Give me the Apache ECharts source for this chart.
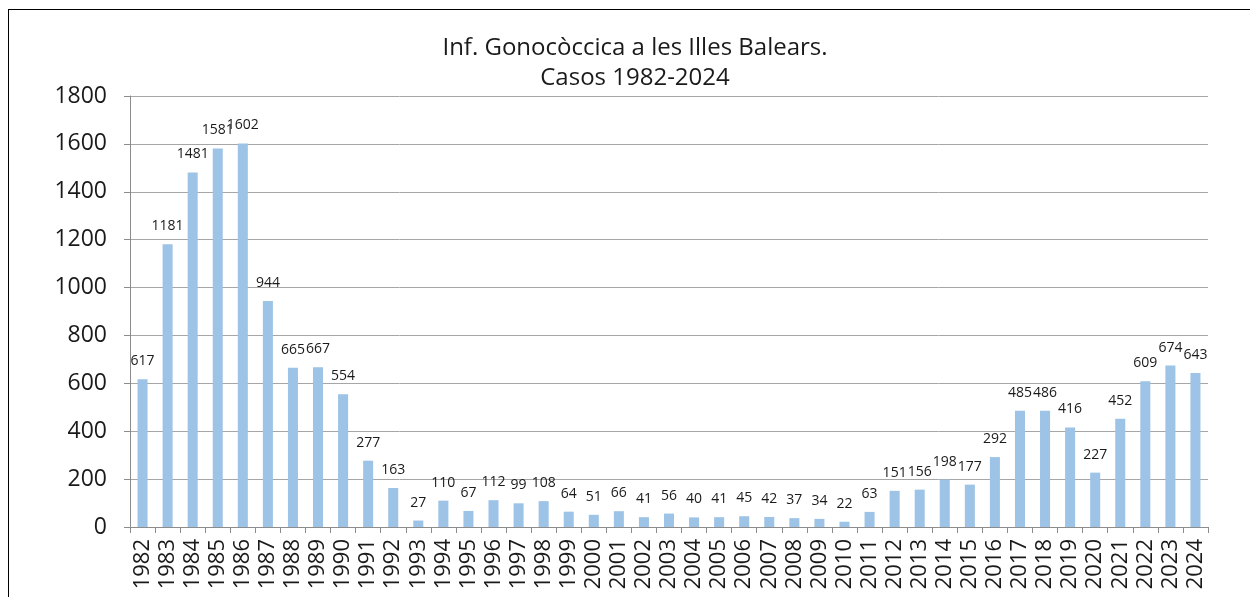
<!DOCTYPE html>
<html><head><meta charset="utf-8">
<script src="https://cdn.jsdelivr.net/npm/echarts@6/dist/echarts.min.js"></script>
<style>
html,body{margin:0;padding:0;background:#fff;width:1250px;height:597px;overflow:hidden;}
#frame{position:absolute;left:8px;top:9px;width:1300px;height:700px;border:1.5px solid #000;box-sizing:border-box;}
#c{position:absolute;left:0;top:0;width:1250px;height:597px;}
</style></head>
<body><div id="frame"></div><div id="c"></div>
<script>
const years = ['1982','1983','1984','1985','1986','1987','1988','1989','1990','1991','1992','1993','1994','1995','1996','1997','1998','1999','2000','2001','2002','2003','2004','2005','2006','2007','2008','2009','2010','2011','2012','2013','2014','2015','2016','2017','2018','2019','2020','2021','2022','2023','2024'];
const cases = [617,1181,1481,1581,1602,944,665,667,554,277,163,27,110,67,112,99,108,64,51,66,41,56,40,41,45,42,37,34,22,63,151,156,198,177,292,485,486,416,227,452,609,674,643];
const titleLines = ['Inf. Gonocòccica a les Illes Balears.', 'Casos 1982-2024'];

const chart = echarts.init(document.getElementById('c'), null, {renderer:'canvas'});
chart.setOption({
  animation:false,
  textStyle:{fontFamily:'"Open Sans","Noto Sans",sans-serif'},
  title:{text:titleLines.join('\n'), left:630, top:28, textAlign:'center',
    textStyle:{fontSize:24, fontWeight:'normal', color:'#1a1a1a', lineHeight:30, fontFamily:'"Open Sans","Noto Sans",sans-serif'}},
  grid:{left:130, right:42, top:96, bottom:70, containLabel:false},
  xAxis:{type:'category', data:years,
    axisLine:{lineStyle:{color:'#8c8c8c'}},
    axisTick:{show:true, interval:0, length:6, lineStyle:{color:'#8c8c8c'}},
    axisLabel:{rotate:90, interval:0, fontSize:22, color:'#1a1a1a', margin:12}},
  yAxis:{type:'value', min:0, max:1800, interval:200,
    axisLine:{show:true, lineStyle:{color:'#8c8c8c'}},
    axisTick:{show:true, length:6, lineStyle:{color:'#8c8c8c'}},
    splitLine:{lineStyle:{color:'#a6a6a6'}},
    axisLabel:{fontSize:23, color:'#1a1a1a', margin:23, formatter:v=>String(v)}},
  series:[{type:'bar', data:cases, barWidth:'40%',
    itemStyle:{color:'#9DC3E6'},
    label:{show:true, position:'top', distance:11, fontSize:14, color:'#1a1a1a'}}]
});
</script></body></html>
